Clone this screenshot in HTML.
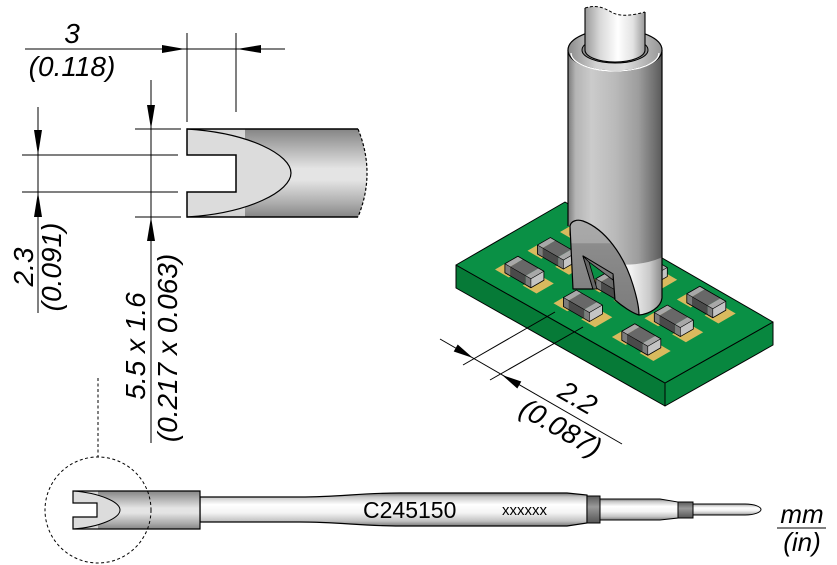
<!DOCTYPE html>
<html><head><meta charset="utf-8">
<style>
html,body{margin:0;padding:0;background:#fff;}
svg{display:block;}
text{font-family:"Liberation Sans",Arial,Helvetica,sans-serif;fill:#000;}
.lbl{font-size:28px;font-style:italic;}
.unit{font-size:26px;font-style:italic;}
</style></head><body>
<svg width="837" height="565" viewBox="0 0 837 565" xmlns="http://www.w3.org/2000/svg">
<defs>
  <linearGradient id="gTip" x1="0" y1="0" x2="0" y2="1">
    <stop offset="0" stop-color="#858585"/>
    <stop offset="0.18" stop-color="#ababab"/>
    <stop offset="0.45" stop-color="#e4e4e4"/>
    <stop offset="0.58" stop-color="#e4e4e4"/>
    <stop offset="0.85" stop-color="#ababab"/>
    <stop offset="1" stop-color="#858585"/>
  </linearGradient>
  <linearGradient id="gTipL" x1="0" y1="0" x2="0" y2="1">
    <stop offset="0" stop-color="#d2d2d2"/>
    <stop offset="0.3" stop-color="#ececec"/>
    <stop offset="0.7" stop-color="#ececec"/>
    <stop offset="1" stop-color="#d2d2d2"/>
  </linearGradient>
  <linearGradient id="gShaft" x1="0" y1="0" x2="0" y2="1">
    <stop offset="0" stop-color="#707070"/>
    <stop offset="0.12" stop-color="#c8c8c8"/>
    <stop offset="0.35" stop-color="#ffffff"/>
    <stop offset="0.6" stop-color="#f4f4f4"/>
    <stop offset="0.85" stop-color="#c2c2c2"/>
    <stop offset="1" stop-color="#7a7a7a"/>
  </linearGradient>
  <linearGradient id="gBand" x1="0" y1="0" x2="0" y2="1">
    <stop offset="0" stop-color="#5a5a5a"/>
    <stop offset="0.4" stop-color="#9a9a9a"/>
    <stop offset="1" stop-color="#555"/>
  </linearGradient>
  <linearGradient id="gIS" x1="0" y1="0" x2="1" y2="0">
    <stop offset="0" stop-color="#9a9a9a"/>
    <stop offset="0.25" stop-color="#d8d8d8"/>
    <stop offset="0.55" stop-color="#ffffff"/>
    <stop offset="0.8" stop-color="#e2e2e2"/>
    <stop offset="1" stop-color="#999"/>
  </linearGradient>
  <linearGradient id="gIB" x1="568" y1="0" x2="662" y2="0" gradientUnits="userSpaceOnUse">
    <stop offset="0" stop-color="#7a7a7a"/>
    <stop offset="0.08" stop-color="#b4b4b4"/>
    <stop offset="0.25" stop-color="#cbcbcb"/>
    <stop offset="0.5" stop-color="#bababa"/>
    <stop offset="0.75" stop-color="#9d9d9d"/>
    <stop offset="0.92" stop-color="#707070"/>
    <stop offset="1" stop-color="#5a5a5a"/>
  </linearGradient>
  <linearGradient id="gRim" x1="0" y1="0" x2="1" y2="0">
    <stop offset="0" stop-color="#8a8a8a"/>
    <stop offset="0.3" stop-color="#d2d2d2"/>
    <stop offset="0.6" stop-color="#dedede"/>
    <stop offset="1" stop-color="#959595"/>
  </linearGradient>
  <linearGradient id="gSleeve" x1="600" y1="0" x2="662" y2="0" gradientUnits="userSpaceOnUse">
    <stop offset="0" stop-color="#ffffff"/>
    <stop offset="0.5" stop-color="#f2f2f2"/>
    <stop offset="0.8" stop-color="#cacaca"/>
    <stop offset="1" stop-color="#8a8a8a"/>
  </linearGradient>
  <linearGradient id="gBlade" x1="0" y1="220" x2="0" y2="315" gradientUnits="userSpaceOnUse">
    <stop offset="0" stop-color="#aaaaaa"/>
    <stop offset="0.24" stop-color="#a6a6a6"/>
    <stop offset="0.25" stop-color="#8c8c8c"/>
    <stop offset="1" stop-color="#7c7c7c"/>
  </linearGradient>
  <clipPath id="cTop">
    <path d="M187,129 L358,129 Q376,173 358,217 L187,217 L187,192 L236,192 L236,155 L187,155 Z"/>
  </clipPath>
  <clipPath id="cBot">
    <path d="M73,491 L200,491 L200,529 L73,529 L73,517 L97,517 L97,503 L73,503 Z"/>
  </clipPath>
  <clipPath id="cBody">
    <path d="M568,50 L662,50 L662,298 C661,307 650,314 639,315 C639,308 637,298 633,285 C624,255 605,229 583,221 C577,219 571,221 570,226 L568,226 Z"/>
  </clipPath>
  <g id="chip">
    <polygon points="-29.4,-7 -15.6,1 1.7,-9 -12.1,-17" fill="#d9ba5e"/>
    <polygon points="-1.7,9 12.1,17 29.4,7 15.6,-1" fill="#d9ba5e"/>
    <polygon points="-19.5,-12.75 -14.3,-9.75 -1.3,-17.25 -6.5,-20.25" fill="#a8a8a8"/>
    <polygon points="-14.3,-9.75 1.3,-0.75 14.3,-8.25 -1.3,-17.25" fill="#686868"/>
    <polygon points="1.3,-0.75 6.5,2.25 19.5,-5.25 14.3,-8.25" fill="#a8a8a8"/>
    <polygon points="-19.5,-12.75 -14.3,-9.75 -14.3,-0.75 -19.5,-3.75" fill="#7c7c7c"/>
    <polygon points="-14.3,-9.75 1.3,-0.75 1.3,8.25 -14.3,-0.75" fill="#4a4a4a"/>
    <polygon points="1.3,-0.75 6.5,2.25 6.5,11.25 1.3,8.25" fill="#7c7c7c"/>
    <polygon points="6.5,2.25 19.5,-5.25 19.5,3.75 6.5,11.25" fill="#c4c4c4"/>
    <polygon points="-19.5,-12.75 -6.5,-20.25 19.5,-5.25 19.5,3.75 6.5,11.25 -19.5,-3.75" fill="none" stroke="#000" stroke-width="0.8" stroke-linejoin="round"/>
    <polyline points="-19.5,-12.75 6.5,2.25 19.5,-5.25" fill="none" stroke="#000" stroke-width="0.6"/>
    <line x1="6.5" y1="2.25" x2="6.5" y2="11.25" stroke="#000" stroke-width="0.6"/>
  </g>
</defs>

<!-- ===== Top-left dimensions ===== -->
<g stroke="#000" stroke-width="1" fill="none">
  <line x1="25" y1="49" x2="285" y2="49"/>
  <line x1="187" y1="33" x2="187" y2="122"/>
  <line x1="236" y1="33" x2="236" y2="112"/>
  <line x1="22" y1="155" x2="178" y2="155"/>
  <line x1="22" y1="192" x2="178" y2="192"/>
  <line x1="135" y1="129" x2="181" y2="129"/>
  <line x1="135" y1="217" x2="181" y2="217"/>
  <line x1="38" y1="107" x2="38" y2="313"/>
  <line x1="151" y1="80" x2="151" y2="443"/>
</g>
<g fill="#000">
  <polygon points="185,49 162,45 162,53"/>
  <polygon points="237,49 261,45 261,53"/>
  <polygon points="38,155 34,130 42,130"/>
  <polygon points="38,192 34,217 42,217"/>
  <polygon points="151,129 147,105 155,105"/>
  <polygon points="151,217 147,241 155,241"/>
</g>
<text class="lbl" x="72" y="43" text-anchor="middle">3</text>
<text class="lbl" x="72" y="76" text-anchor="middle">(0.118)</text>
<text class="lbl" transform="translate(33,267) rotate(-90)" text-anchor="middle">2.3</text>
<text class="lbl" transform="translate(61,267) rotate(-90)" text-anchor="middle">(0.091)</text>
<text class="lbl" transform="translate(145,346) rotate(-90)" text-anchor="middle">5.5 x 1.6</text>
<text class="lbl" transform="translate(177,348) rotate(-90)" text-anchor="middle">(0.217 x 0.063)</text>

<!-- Top tip drawing -->
<g clip-path="url(#cTop)">
  <rect x="187" y="129" width="190" height="88" fill="url(#gTip)"/>
  <rect x="187" y="129" width="58" height="88" fill="url(#gTipL)"/>
  <path d="M187,129 C250,133 291,155 291,173 C291,191 250,213 187,217 Z" fill="#dcdcdc"/>
</g>
<path d="M187,129 C250,133 291,155 291,173 C291,191 250,213 187,217" fill="none" stroke="#000" stroke-width="1.2"/>
<path d="M358,129 L187,129 L187,155 L236,155 L236,192 L187,192 L187,217 L358,217" fill="none" stroke="#000" stroke-width="1.5"/>
<path d="M358,129 Q376,173 358,217" fill="none" stroke="#000" stroke-width="1.2" stroke-dasharray="3 2"/>

<!-- ===== Bottom cartridge ===== -->
<line x1="98" y1="378" x2="98" y2="457" stroke="#000" stroke-width="1" stroke-dasharray="3 2.5"/>
<path d="M200,497 L300,497 C340,497 360,493 400,493 L567,493 L587,495 L587,523 L567,526 L400,526 C360,526 340,522 300,522 L200,522 Z" fill="url(#gShaft)" stroke="#000" stroke-width="1.2"/>
<rect x="587" y="496" width="13" height="27" fill="url(#gBand)" stroke="#000" stroke-width="1"/>
<path d="M600,499 L660,499 L678,502 L678,518 L660,520 L600,520 Z" fill="url(#gShaft)" stroke="#000" stroke-width="1"/>
<rect x="678" y="502" width="15" height="16" fill="url(#gBand)" stroke="#000" stroke-width="1"/>
<path d="M693,504 L745,504 C755,504 761,507 761,509.5 C761,512 755,515 745,515 L693,515 Z" fill="url(#gShaft)" stroke="#000" stroke-width="1"/>
<g clip-path="url(#cBot)">
  <rect x="73" y="491" width="127" height="38" fill="url(#gTip)"/>
  <rect x="73" y="491" width="25" height="38" fill="url(#gTipL)"/>
  <path d="M73,491 C100,493 120,502 120,510 C120,518 100,527 73,529 Z" fill="#dcdcdc"/>
</g>
<path d="M73,491 C100,493 120,502 120,510 C120,518 100,527 73,529" fill="none" stroke="#000" stroke-width="1"/>
<path d="M73,491 L200,491 L200,529 L73,529 L73,517 L97,517 L97,503 L73,503 Z" fill="none" stroke="#000" stroke-width="1.2"/>
<circle cx="98" cy="510" r="53" fill="none" stroke="#000" stroke-width="1" stroke-dasharray="3 2.5"/>
<text x="363" y="518" font-size="23">C245150</text>
<text x="502" y="515" font-size="15">xxxxxx</text>

<text class="unit" x="802" y="523" text-anchor="middle">mm</text>
<line x1="777" y1="528" x2="826" y2="528" stroke="#000" stroke-width="1"/>
<text class="unit" x="802" y="551" text-anchor="middle">(in)</text>

<!-- ===== 3D view: PCB ===== -->
<polygon points="456,265 665,383 665,406 456,288" fill="#067a37" stroke="#000" stroke-width="1" stroke-linejoin="round"/>
<polygon points="665,383 773,322 773,345 665,406" fill="#08873f" stroke="#000" stroke-width="1" stroke-linejoin="round"/>
<polygon points="456,265 565,202 773,322 665,383" fill="#0a9045" stroke="#000" stroke-width="1" stroke-linejoin="round"/>

<use href="#chip" x="589.4" y="239"/>
<use href="#chip" x="556.9" y="257.8"/>
<use href="#chip" x="647.8" y="272.8"/>
<use href="#chip" x="524.4" y="276.5"/>
<use href="#chip" x="615.3" y="291.5"/>
<use href="#chip" x="706.3" y="306.5"/>
<use href="#chip" x="582.9" y="310.3"/>
<use href="#chip" x="673.8" y="325.3"/>
<use href="#chip" x="641.3" y="344"/>

<!-- ===== Iron ===== -->
<path d="M568,50 L662,50 L662,298 C661,307 650,314 639,315 C639,308 637,298 633,285 C624,255 605,229 583,221 C577,219 571,221 570,226 L568,226 Z" fill="url(#gIB)"/>
<g clip-path="url(#cBody)">
  <path d="M560,248 Q620,276 663,257 L663,320 L560,320 Z" fill="url(#gSleeve)"/>
</g>
<path d="M568,226 L568,50 M662,50 L662,298 C661,307 650,314 639,315" fill="none" stroke="#000" stroke-width="1.2"/>
<!-- blade face -->
<path d="M570,226 C571,221 577,219 583,221 C605,229 624,255 633,285 C637,298 639,308 639,315 C632,313 622,306 615,300 L613,274 L583,256 L593,289 L573,289 Z" fill="url(#gBlade)" stroke="#000" stroke-width="1.2" stroke-linejoin="round"/>
<polygon points="583,256 589,262 597,289 593,289" fill="#666" stroke="#000" stroke-width="0.8"/>
<polygon points="583,256 613,274 613,280 589,262" fill="#777" stroke="#000" stroke-width="0.8"/>
<!-- collar -->
<ellipse cx="615" cy="50" rx="47" ry="21" fill="url(#gRim)" stroke="#000" stroke-width="1.2"/>
<path d="M571,53 A44,18 0 0 0 659,53" fill="none" stroke="#fff" stroke-width="1.3"/>
<ellipse cx="615" cy="50" rx="33" ry="13" fill="#8f8f8f" stroke="#000" stroke-width="1"/>
<path d="M585,8 C598,4 606,9 613,13 C622,17 634,15 645,12 L645,50 A30,12 0 0 1 585,50 Z" fill="url(#gIS)"/>
<path d="M585,8 L585,50 A30,12 0 0 0 645,50 L645,12" fill="none" stroke="#000" stroke-width="1.1"/>
<path d="M585,8 C598,4 606,9 613,13 C622,17 634,15 645,12" fill="none" stroke="#000" stroke-width="1" stroke-dasharray="3 2"/>

<!-- 3D dimension -->
<g stroke="#000" stroke-width="1">
  <line x1="555" y1="312" x2="463" y2="365"/>
  <line x1="583" y1="327" x2="490" y2="380"/>
  <line x1="440" y1="339" x2="622" y2="444"/>
</g>
<polygon points="473,358 453.7,351.5 457.7,344.5" fill="#000"/>
<polygon points="502,375 517.3,388.5 521.3,381.5" fill="#000"/>
<text class="lbl" transform="translate(573,406) rotate(30)" text-anchor="middle">2.2</text>
<text class="lbl" transform="translate(556,436) rotate(30)" text-anchor="middle">(0.087)</text>
</svg>
</body></html>
